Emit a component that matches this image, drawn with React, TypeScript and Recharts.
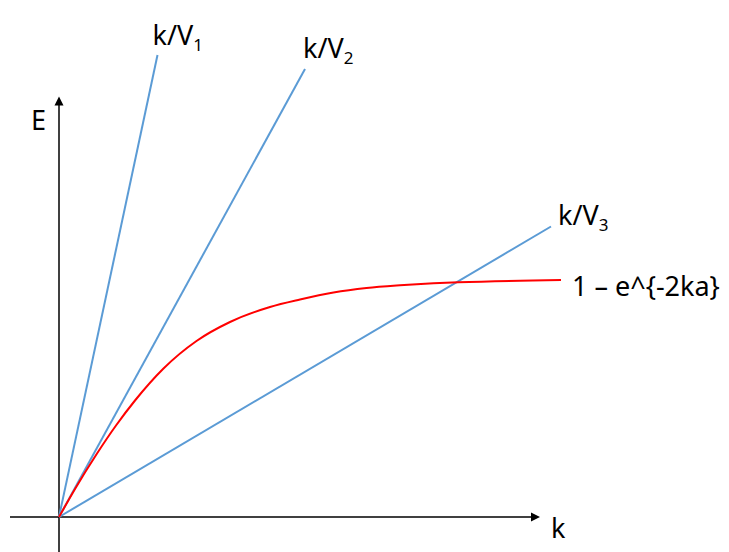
import React from 'react';
import { ComposedChart, Line, Scatter, XAxis, YAxis, ReferenceDot } from 'recharts';

// one unit = 50px, origin at the crossing of the two axes
const xAxisLine = [{ x: -0.98, y: 0 }, { x: 9.5, y: 0 }];
const yAxisLine = [{ x: 0, y: -0.7 }, { x: 0, y: 8.3 }];
const xTip = [{ x: 9.62, y: 0 }];
const yTip = [{ x: 0, y: 8.41 }];

const v1 = [{ x: 0, y: 0 }, { x: 1.97, y: 9.24 }];
const v2 = [{ x: 0, y: 0 }, { x: 4.92, y: 8.96 }];
const v3 = [{ x: 0, y: 0 }, { x: 9.84, y: 5.81 }];

const curveK = [0, 0.32, 0.76, 1.14, 1.52, 2.09, 2.75, 3.42, 4.22, 4.82, 5.49, 6.15, 6.82, 7.49, 7.99, 10.04];
const curveE = [0, 0.56, 1.27, 1.83, 2.33, 2.97, 3.52, 3.9, 4.2, 4.35, 4.49, 4.58, 4.635, 4.675, 4.695, 4.74];
const curve = curveK.map((x, i) => ({ x, y: curveE[i] }));

const FONT = '"Noto Sans", sans-serif';
const BLUE = '#5b9bd5';

const Tag = (props: any) => {
  const { cx, cy, dx, dy, main, sub, anchor } = props;
  return (
    <text x={cx + dx} y={cy + dy} fontFamily={FONT} fontSize={27} fill="#000" textAnchor={anchor || 'start'}>
      {main}
      {sub && <tspan fontSize={17} dy={6}>{sub}</tspan>}
    </text>
  );
};

const RightArrow = (p: any) => (
  <polygon points={`${p.cx},${p.cy} ${p.cx - 9},${p.cy - 4.5} ${p.cx - 9},${p.cy + 4.5}`} fill="#000" />
);
const UpArrow = (p: any) => (
  <polygon points={`${p.cx},${p.cy} ${p.cx - 4.5},${p.cy + 9} ${p.cx + 4.5},${p.cy + 9}`} fill="#000" />
);

export default function App() {
  const last = (d: { x: number; y: number }[]) => d[d.length - 1];
  const lineProps = { dataKey: 'y', dot: false, activeDot: false, isAnimationActive: false } as const;
  return (
    <div>
      <style>{'body{margin:0}'}</style>
      <ComposedChart width={729} height={552} margin={{ top: 0, right: 0, bottom: 0, left: 0 }}>
        <XAxis hide type="number" dataKey="x" domain={[-1.18, 13.4]} allowDataOverflow />
        <YAxis hide type="number" dataKey="y" domain={[-0.7, 10.34]} allowDataOverflow />

        <Line data={xAxisLine} {...lineProps} stroke="#000" strokeWidth={1.5} />
        <Line data={yAxisLine} {...lineProps} stroke="#000" strokeWidth={1.5} />
        <Scatter data={xTip} dataKey="y" shape={RightArrow} isAnimationActive={false} />
        <Scatter data={yTip} dataKey="y" shape={UpArrow} isAnimationActive={false} />

        <Line data={v1} {...lineProps} stroke={BLUE} strokeWidth={2} />
        <Line data={v2} {...lineProps} stroke={BLUE} strokeWidth={2} />
        <Line data={v3} {...lineProps} stroke={BLUE} strokeWidth={2} />
        <Line data={curve} {...lineProps} type="monotone" stroke="#ff0000" strokeWidth={2} />

        <ReferenceDot x={last(v1).x} y={last(v1).y} r={0} shape={(p: any) => <Tag {...p} dx={-5} dy={-10} main="k/V" sub="1" />} />
        <ReferenceDot x={last(v2).x} y={last(v2).y} r={0} shape={(p: any) => <Tag {...p} dx={-2} dy={-11} main="k/V" sub="2" />} />
        <ReferenceDot x={last(v3).x} y={last(v3).y} r={0} shape={(p: any) => <Tag {...p} dx={7} dy={-2} main="k/V" sub="3" />} />
        <ReferenceDot x={last(curve).x} y={last(curve).y} r={0} shape={(p: any) => <Tag {...p} dx={11} dy={16} main="1 – e^{-2ka}" />} />
        <ReferenceDot x={yTip[0].x} y={yTip[0].y} r={0} shape={(p: any) => <Tag {...p} dx={-13} dy={33} main="E" anchor="end" />} />
        <ReferenceDot x={xTip[0].x} y={xTip[0].y} r={0} shape={(p: any) => <Tag {...p} dx={11} dy={21} main="k" />} />
      </ComposedChart>
    </div>
  );
}
